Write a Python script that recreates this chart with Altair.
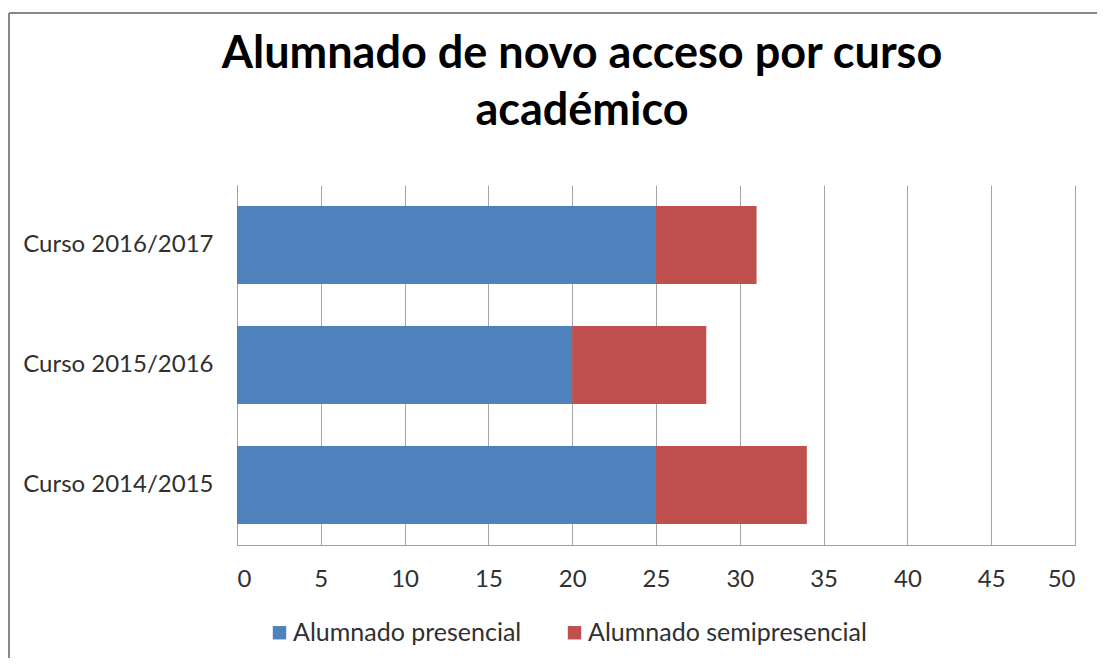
import altair as alt
import pandas as pd

cursos = ["Curso 2016/2017", "Curso 2015/2016", "Curso 2014/2015"]
presencial = [25, 20, 25]
semipresencial = [6, 8, 9]
series = ["Alumnado presencial", "Alumnado semipresencial"]
colors = ["#4F81BD", "#C0504D"]

rows = []
for c, p, s in zip(cursos, presencial, semipresencial):
    rows.append({"curso": c, "serie": series[0], "valor": p, "orden": 0})
    rows.append({"curso": c, "serie": series[1], "valor": s, "orden": 1})
df = pd.DataFrame(rows)

FONT = "Lato"
LBL = 24

bars = alt.Chart(df).mark_bar().encode(
    y=alt.Y("curso:N", sort=cursos, title=None,
            scale=alt.Scale(paddingInner=0.35, paddingOuter=0.175),
            axis=alt.Axis(ticks=False, domain=True, domainColor="#a0a0a0",
                          labelFontSize=LBL, labelColor="#303030", labelFont=FONT,
                          labelPadding=24, labelLimit=0)),
    x=alt.X("valor:Q", stack="zero", title=None,
            scale=alt.Scale(domain=[0, 50]),
            axis=alt.Axis(values=list(range(0, 51, 5)), ticks=False, grid=True,
                          gridColor="#a6a6a6", domainColor="#a0a0a0",
                          labelFontSize=LBL, labelColor="#303030", labelFont=FONT,
                          labelPadding=22)),
    color=alt.Color("serie:N", scale=alt.Scale(domain=series, range=colors),
                    legend=alt.Legend(title=None, orient="none", legendX=30, legendY=435,
                                      direction="horizontal", symbolType="square",
                                      symbolSize=180, symbolStrokeWidth=0,
                                      labelFontSize=25, labelFont=FONT, labelColor="#303030",
                                      labelLimit=0, columnPadding=40, labelOffset=1)),
    order=alt.Order("orden:Q"),
)

frame_left = alt.Chart(df).mark_rule(color="#888888", strokeWidth=2).encode(
    x=alt.value(-228), y=alt.value(-172), y2=alt.value(500))
frame_top = alt.Chart(df).mark_rule(color="#888888", strokeWidth=2).encode(
    x=alt.value(-228), x2=alt.value(1000), y=alt.value(-172))

chart = alt.layer(frame_left, frame_top, bars).properties(
    width=838, height=360,
    autosize=alt.AutoSizeParams(type="none"),
    padding={"left": 229, "top": 177, "right": 22, "bottom": 113},
    title=alt.Title(["Alumnado de novo acceso por curso", "académico"],
                    fontSize=45, font=FONT, fontWeight="bold", color="#000000",
                    anchor="middle", frame="group", dx=-74, lineHeight=57, offset=-122),
).configure_view(stroke=None)

chart.save("out.html", embed_options={"renderer": "svg", "actions": False})
